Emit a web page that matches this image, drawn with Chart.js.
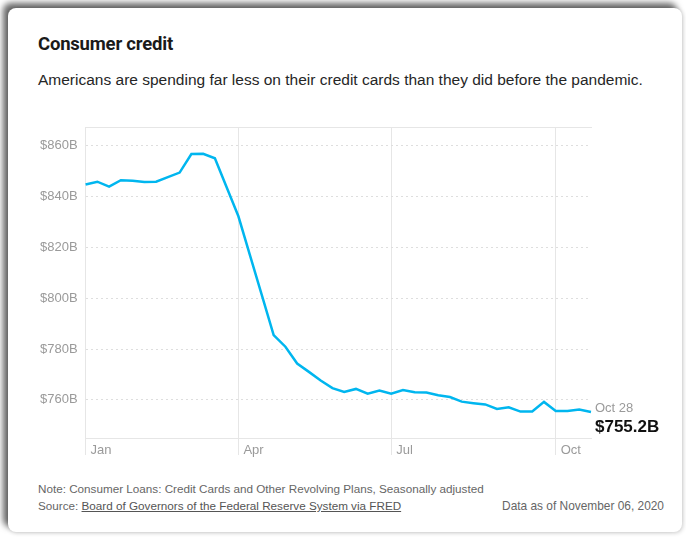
<!DOCTYPE html>
<html>
<head>
<meta charset="utf-8">
<script src="https://cdn.jsdelivr.net/npm/chart.js@4"></script>
<style>
    body { margin: 0; width: 686px; height: 539px; background: #fff; overflow: hidden; font-family: "Liberation Sans", Arial, sans-serif; }
    .card { position: absolute; left: 8px; top: 8px; width: 674px; height: 524px; background: #fff; border-radius: 8px;
        box-shadow: -5px -5px 6px rgba(0,0,0,0.6), 1px 1px 4px rgba(0,0,0,0.2); }
    .title { position: absolute; left: 38px; top: 33px; font-family: "Roboto", sans-serif; font-weight: bold; font-size: 18.5px; color: #1a1a1a; letter-spacing: -0.2px; }
    .sub { position: absolute; left: 38px; top: 71px; font-size: 15.5px; color: #262626; white-space: nowrap; }
    .note { position: absolute; left: 38px; font-size: 11.7px; color: #666; white-space: nowrap; }
    .note u { color: #555; }
    .asof { position: absolute; right: 22px; top: 499px; font-size: 11.9px; color: #666; }
    .chart-box { position: absolute; left: 30px; top: 112px; width: 650px; height: 351px; }
</style>
</head>
<body>
<div class="card"></div>
<div class="title">Consumer credit</div>
<div class="sub">Americans are spending far less on their credit cards than they did before the pandemic.</div>
<div class="chart-box"><canvas id="creditChart"></canvas></div>
<div class="note" style="top:482px">Note: Consumer Loans: Credit Cards and Other Revolving Plans, Seasonally adjusted</div>
<div class="note" style="top:499px">Source: <u>Board of Governors of the Federal Reserve System via FRED</u></div>
<div class="asof">Data as of November 06, 2020</div>

<script>
// weekly data (Wednesdays), 2020
var weeks = [
    "Jan 1", "Jan 8", "Jan 15", "Jan 22", "Jan 29",
    "Feb 5", "Feb 12", "Feb 19", "Feb 26",
    "Mar 4", "Mar 11", "Mar 18", "Mar 25",
    "Apr 1", "Apr 8", "Apr 15", "Apr 22", "Apr 29",
    "May 6", "May 13", "May 20", "May 27",
    "Jun 3", "Jun 10", "Jun 17", "Jun 24",
    "Jul 1", "Jul 8", "Jul 15", "Jul 22", "Jul 29",
    "Aug 5", "Aug 12", "Aug 19", "Aug 26",
    "Sep 2", "Sep 9", "Sep 16", "Sep 23", "Sep 30",
    "Oct 7", "Oct 14", "Oct 21", "Oct 28"
];

// billions of dollars
var credit = [
    844.7, 845.8, 843.9, 846.4, 846.2,
    845.7, 845.8, 847.6, 849.4,
    856.7, 856.8, 855.0, 843.6,
    832.2, 816.6, 801.1, 785.5, 780.9,
    774.3, 771.0, 767.6, 764.6,
    763.1, 764.3, 762.4, 763.7,
    762.4, 763.9, 763.0, 762.9, 761.8,
    761.1, 759.3, 758.7, 758.2,
    756.4, 757.1, 755.4, 755.4, 759.2,
    755.6, 755.6, 756.2, 755.2
];

var monthTicks = [0, 13, 26, 40];
var monthNames = ["Jan", "Apr", "Jul", "Oct"];
var yTicks = [760, 780, 800, 820, 840, 860];

var lineColor = "#00b6ef";
var gridColor = "#e6e6e6";
var labelColor = "#9a9a9a";

// label at the end of the line
var endLabel = {
    id: "endLabel",
    afterDatasetsDraw: function(chart) {
        var meta = chart.getDatasetMeta(0);
        var last = meta.data[meta.data.length - 1];
        var ctx = chart.ctx;
        ctx.save();
        ctx.textAlign = "left";
        ctx.textBaseline = "middle";
        ctx.fillStyle = labelColor;
        ctx.font = "13px 'Liberation Sans', Arial, sans-serif";
        ctx.fillText(weeks[weeks.length - 1], last.x + 4, last.y - 4);
        ctx.fillStyle = "#111";
        ctx.font = "bold 17px 'Liberation Sans', Arial, sans-serif";
        ctx.fillText("$" + credit[credit.length - 1].toFixed(1) + "B", last.x + 4, last.y + 15);
        ctx.restore();
    }
};

var ctx = document.getElementById("creditChart").getContext("2d");
var creditChart = new Chart(ctx, {
    type: "line",
    data: {
        labels: weeks,
        datasets: [{
            label: "Consumer credit",
            data: credit,
            borderColor: lineColor,
            borderWidth: 2.5,
            pointRadius: 0,
            tension: 0,
            fill: false
        }]
    },
    options: {
        responsive: true,
        maintainAspectRatio: false,
        animation: false,
        layout: { padding: { top: 9, right: 89, left: 0, bottom: 0 } },
        plugins: {
            legend: { display: false },
            tooltip: { enabled: false }
        },
        scales: {
            x: {
                type: "category",
                afterBuildTicks: function(scale) {
                    scale.ticks = scale.ticks.filter(function(t) { return monthTicks.indexOf(t.value) >= 0; });
                },
                afterFit: function(scale) { scale.height = 25; },
                grid: { color: gridColor, lineWidth: 1, tickLength: 17, tickColor: gridColor },
                border: { color: gridColor, width: 1 },
                ticks: {
                    autoSkip: false,
                    maxRotation: 0,
                    align: "start",
                    labelOffset: 5,
                    padding: -12,
                    color: labelColor,
                    font: { family: "'Liberation Sans', Arial, sans-serif", size: 13 },
                    callback: function(value) { return monthNames[monthTicks.indexOf(value)]; }
                }
            },
            // top border line only
            xTop: {
                type: "category",
                position: "top",
                afterFit: function(scale) { scale.height = 0; },
                grid: { display: false },
                ticks: { display: false },
                border: { display: true, color: gridColor, width: 1 }
            },
            y: {
                min: 745,
                max: 867,
                afterBuildTicks: function(scale) {
                    scale.ticks = yTicks.map(function(v) { return { value: v }; });
                },
                afterFit: function(scale) { scale.width = 55.6; },
                grid: { color: "#dedede", lineWidth: 1, drawTicks: false },
                border: {
                    color: gridColor,
                    width: 1,
                    dash: function(c) { return c.type === "tick" ? [2, 3] : []; }
                },
                ticks: {
                    padding: 8,
                    color: labelColor,
                    font: { family: "'Liberation Sans', Arial, sans-serif", size: 13 },
                    callback: function(value) { return "$" + value + "B"; }
                }
            }
        }
    },
    plugins: [endLabel]
});
</script>
</body>
</html>
